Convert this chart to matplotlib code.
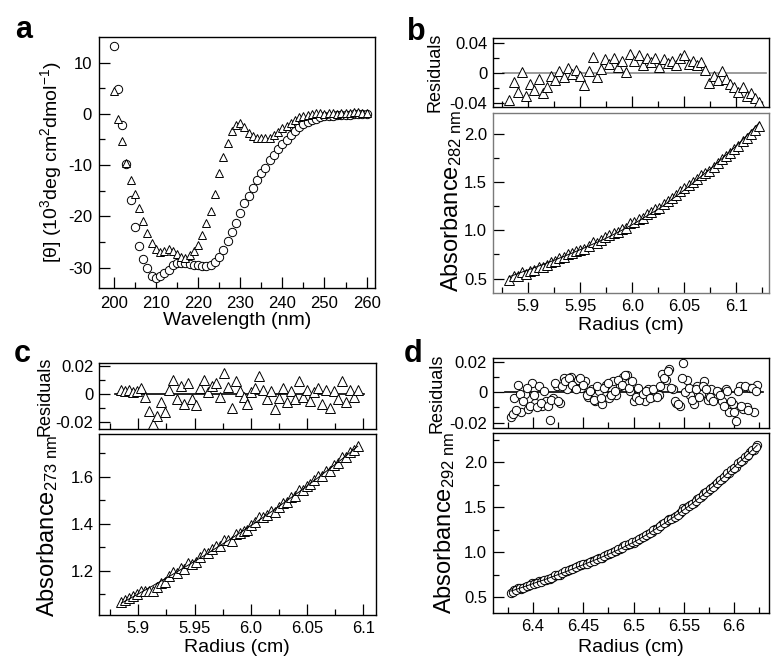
import numpy as np
import matplotlib
matplotlib.use('Agg')
import matplotlib.pyplot as plt
from matplotlib.ticker import FixedLocator

plt.rcParams['font.family'] = ['Liberation Sans', 'DejaVu Sans']
plt.rcParams['mathtext.fontset'] = 'custom'
plt.rcParams['mathtext.rm'] = 'Liberation Sans'
plt.rcParams['mathtext.it'] = 'Liberation Sans:italic'
plt.rcParams['mathtext.bf'] = 'Liberation Sans:bold'
plt.rcParams['axes.unicode_minus'] = False

# ---------------- Panel a: CD spectra ----------------
wavelength = [200, 201, 202, 203, 204, 205, 206, 207, 208, 209, 210, 211, 212, 213, 214,
              215, 216, 217, 218, 219, 220, 221, 222, 223, 224, 225, 226, 227, 228, 229,
              230, 231, 232, 233, 234, 235, 236, 237, 238, 239, 240, 241, 242, 243, 244,
              245, 246, 247, 248, 249, 250, 251, 252, 253, 254, 255, 256, 257, 258, 259, 260]
theta_circles = [13.2, 4.8, -2.2, -9.7, -16.9, -22.0, -25.8, -28.3, -30.1, -31.6, -32.0, -31.7,
                 -31.1, -30.5, -29.6, -29.2, -29.1, -29.2, -29.3, -29.5, -29.6, -29.8, -29.7,
                 -29.5, -29.0, -28.0, -26.5, -24.8, -23.1, -21.3, -19.3, -17.5, -16.1, -14.4,
                 -12.9, -11.6, -10.5, -9.0, -8.0, -6.9, -5.9, -5.1, -4.1, -3.3, -2.6, -2.0,
                 -1.6, -1.2, -1.0, -0.7, -0.5, -0.4, -0.4, -0.3, -0.3, -0.2, -0.2, -0.1,
                 -0.1, -0.1, -0.1]
theta_triangles = [4.5, -1.1, -5.4, -9.6, -12.9, -15.7, -18.3, -20.9, -23.2, -25.2, -26.3, -27.0,
                   -26.7, -26.3, -26.7, -27.3, -28.0, -28.2, -27.6, -26.8, -25.7, -23.7, -21.3,
                   -19.0, -15.6, -11.6, -8.4, -5.6, -3.3, -2.2, -1.7, -2.5, -3.8, -4.4, -4.8,
                   -4.8, -4.8, -4.8, -4.1, -3.5, -2.8, -2.3, -1.7, -1.2, -0.7, -0.4, -0.2, -0.1,
                   0.1, 0.1, 0.0, 0.1, 0.1, 0.0, 0.2, 0.2, 0.1, 0.3, 0.4, 0.2, 0.1]
a_xticks = [200, 210, 220, 230, 240, 250, 260]
a_xlabels = ['200', '210', '220', '230', '240', '250', '260']
a_yticks = [-30, -20, -10, 0, 10]
a_ylabels = ['-30', '-20', '-10', '0', '10']

# ---------------- Panel b ----------------
radius_b = [5.882, 5.886, 5.890, 5.894, 5.898, 5.902, 5.906, 5.910, 5.914, 5.918,
            5.922, 5.926, 5.930, 5.934, 5.938, 5.942, 5.946, 5.950, 5.954, 5.958,
            5.962, 5.966, 5.970, 5.974, 5.978, 5.982, 5.986, 5.990, 5.994, 5.998,
            6.002, 6.006, 6.010, 6.014, 6.018, 6.022, 6.026, 6.030, 6.034, 6.038,
            6.042, 6.046, 6.050, 6.054, 6.058, 6.062, 6.066, 6.070, 6.074, 6.078,
            6.082, 6.086, 6.090, 6.094, 6.098, 6.102, 6.106, 6.110, 6.114, 6.118,
            6.122]
fit_b = [0.520, 0.535, 0.551, 0.567, 0.582, 0.598, 0.614, 0.630, 0.646, 0.662,
         0.678, 0.694, 0.712, 0.729, 0.747, 0.764, 0.782, 0.800, 0.819, 0.838,
         0.857, 0.876, 0.895, 0.914, 0.936, 0.958, 0.980, 1.002, 1.025, 1.048,
         1.072, 1.098, 1.124, 1.150, 1.176, 1.202, 1.228, 1.259, 1.291, 1.323,
         1.355, 1.387, 1.420, 1.455, 1.490, 1.525, 1.560, 1.595, 1.630, 1.668,
         1.707, 1.745, 1.784, 1.822, 1.860, 1.900, 1.943, 1.987, 2.030, 2.075,
         2.120]
resid_b = [-0.036, -0.012, -0.025, 0.001, -0.030, -0.015, -0.022, -0.008, -0.027, -0.018,
           -0.004, -0.010, 0.003, -0.006, 0.006, -0.002, 0.004, -0.004, -0.016, 0.002,
           0.021, -0.006, 0.005, 0.018, 0.012, 0.020, 0.008, 0.016, 0.001, 0.025,
           0.016, 0.023, 0.010, 0.020, 0.014, 0.019, 0.008, 0.018, 0.013, 0.016,
           0.010, 0.019, 0.023, 0.012, 0.016, 0.011, 0.014, 0.004, -0.013, -0.004,
           -0.010, 0.002, -0.008, -0.015, -0.019, -0.025, -0.018, -0.030, -0.027, -0.033,
           -0.038]
b_xticks = [5.9, 5.95, 6.0, 6.05, 6.1]
b_xlabels = ['5.9', '5.95', '6.0', '6.05', '6.1']
b_yticks = [0.5, 1.0, 1.5, 2.0]
b_ylabels = ['0.5', '1.0', '1.5', '2.0']
b_rticks = [-0.04, 0, 0.04]
b_rlabels = ['-0.04', '0', '0.04']

# ---------------- Panel c ----------------
radius_c = [5.8850, 5.8885, 5.8920, 5.8955, 5.8990, 5.9025, 5.9060, 5.9095, 5.9130, 5.9165,
            5.9200, 5.9235, 5.9270, 5.9305, 5.9340, 5.9375, 5.9410, 5.9445, 5.9480, 5.9515,
            5.9550, 5.9585, 5.9620, 5.9655, 5.9690, 5.9725, 5.9760, 5.9795, 5.9830, 5.9865,
            5.9900, 5.9935, 5.9970, 6.0005, 6.0040, 6.0075, 6.0110, 6.0145, 6.0180, 6.0215,
            6.0250, 6.0285, 6.0320, 6.0355, 6.0390, 6.0425, 6.0460, 6.0495, 6.0530, 6.0565,
            6.0600, 6.0635, 6.0670, 6.0705, 6.0740, 6.0775, 6.0810, 6.0845, 6.0880, 6.0915,
            6.0950]
fit_c = [1.062, 1.071, 1.080, 1.089, 1.098, 1.108, 1.117, 1.127, 1.136, 1.146,
         1.155, 1.165, 1.174, 1.184, 1.194, 1.204, 1.214, 1.224, 1.234, 1.244,
         1.254, 1.264, 1.275, 1.285, 1.296, 1.306, 1.317, 1.327, 1.338, 1.349,
         1.360, 1.371, 1.382, 1.393, 1.404, 1.416, 1.427, 1.439, 1.450, 1.462,
         1.474, 1.486, 1.498, 1.510, 1.522, 1.534, 1.547, 1.559, 1.572, 1.584,
         1.597, 1.610, 1.623, 1.636, 1.649, 1.662, 1.675, 1.689, 1.702, 1.716,
         1.730]
resid_c = [0.003, 0.002, 0.003, 0.001, 0.002, 0.004, -0.002, -0.012, -0.022, -0.016,
           -0.006, -0.013, 0.003, 0.010, -0.004, 0.006, -0.007, 0.008, -0.004, -0.008,
           0.004, 0.010, 0.001, 0.006, 0.008, -0.002, 0.015, 0.005, -0.010, 0.009,
           0.002, -0.002, -0.007, 0.001, 0.004, 0.013, 0.003, -0.004, 0.002, -0.011,
           -0.003, 0.004, -0.006, 0.002, -0.004, 0.009, -0.002, 0.003, -0.005, 0.001,
           0.004, -0.007, 0.003, -0.010, 0.002, -0.004, 0.009, -0.006, 0.003, -0.002,
           0.003]
c_xticks = [5.9, 5.95, 6.0, 6.05, 6.1]
c_xlabels = ['5.9', '5.95', '6.0', '6.05', '6.1']
c_yticks = [1.2, 1.4, 1.6]
c_ylabels = ['1.2', '1.4', '1.6']
c_rticks = [-0.02, 0, 0.02]
c_rlabels = ['-0.02', '0', '0.02']

# ---------------- Panel d (two interleaved sets of scans) ----------------
radius_d = [6.3780, 6.3815, 6.3850, 6.3885, 6.3920, 6.3955, 6.3990, 6.4025, 6.4060, 6.4095,
            6.4130, 6.4165, 6.4200, 6.4235, 6.4270, 6.4305, 6.4340, 6.4375, 6.4410, 6.4445,
            6.4480, 6.4515, 6.4550, 6.4585, 6.4620, 6.4655, 6.4690, 6.4725, 6.4760, 6.4795,
            6.4830, 6.4865, 6.4900, 6.4935, 6.4970, 6.5005, 6.5040, 6.5075, 6.5110, 6.5145,
            6.5180, 6.5215, 6.5250, 6.5285, 6.5320, 6.5355, 6.5390, 6.5425, 6.5460, 6.5495,
            6.5530, 6.5565, 6.5600, 6.5635, 6.5670, 6.5705, 6.5740, 6.5775, 6.5810, 6.5845,
            6.5880, 6.5915, 6.5950, 6.5985, 6.6020, 6.6055, 6.6090, 6.6125, 6.6160, 6.6195,
            6.6230]
fit_d = [0.567, 0.579, 0.592, 0.605, 0.618, 0.632, 0.646, 0.660, 0.673, 0.686,
         0.700, 0.714, 0.728, 0.743, 0.758, 0.773, 0.788, 0.804, 0.820, 0.836,
         0.851, 0.866, 0.882, 0.898, 0.914, 0.930, 0.947, 0.964, 0.981, 0.999,
         1.017, 1.035, 1.054, 1.073, 1.092, 1.112, 1.134, 1.157, 1.180, 1.204,
         1.228, 1.252, 1.277, 1.303, 1.329, 1.355, 1.382, 1.410, 1.438, 1.467,
         1.496, 1.525, 1.555, 1.586, 1.617, 1.649, 1.682, 1.715, 1.750, 1.785,
         1.820, 1.857, 1.894, 1.932, 1.967, 2.002, 2.038, 2.075, 2.112, 2.150,
         2.189]
resid_d = [-0.016, -0.004, 0.005, -0.013, -0.001, -0.011, 0.006, -0.007, 0.004, -0.009,
           -0.006, -0.018, -0.004, 0.004, -0.007, 0.009, 0.002, 0.010, 0.006, 0.008,
           0.003, 0.007, -0.003, 0.002, -0.006, 0.001, -0.008, 0.005, -0.004, 0.007,
           -0.002, 0.004, 0.010, 0.011, 0.001, -0.006, 0.003, -0.004, -0.006, 0.002,
           -0.003, 0.001, -0.002, 0.012, 0.008, 0.015, 0.002, -0.007, -0.009, 0.019,
           0.008, -0.002, -0.008, 0.004, -0.001, 0.007, -0.005, 0.002, -0.004, 0.000,
           -0.006, 0.002, -0.013, -0.008, -0.019, 0.004, -0.011, -0.010, 0.003, -0.013,
           0.005]
radius_d2 = [6.3798, 6.3833, 6.3868, 6.3903, 6.3938, 6.3973, 6.4008, 6.4043, 6.4078, 6.4113,
             6.4148, 6.4183, 6.4218, 6.4253, 6.4288, 6.4323, 6.4358, 6.4393, 6.4428, 6.4463,
             6.4498, 6.4533, 6.4568, 6.4603, 6.4638, 6.4673, 6.4708, 6.4743, 6.4778, 6.4813,
             6.4848, 6.4883, 6.4918, 6.4953, 6.4988, 6.5023, 6.5058, 6.5093, 6.5128, 6.5163,
             6.5198, 6.5233, 6.5268, 6.5303, 6.5338, 6.5373, 6.5408, 6.5443, 6.5478, 6.5513,
             6.5548, 6.5583, 6.5618, 6.5653, 6.5688, 6.5723, 6.5758, 6.5793, 6.5828, 6.5863,
             6.5898, 6.5933, 6.5968, 6.6003, 6.6038, 6.6073, 6.6108, 6.6143, 6.6178, 6.6213]
fit_d2 = [0.573, 0.586, 0.599, 0.612, 0.625, 0.639, 0.653, 0.667, 0.680, 0.693,
          0.707, 0.721, 0.736, 0.751, 0.766, 0.781, 0.796, 0.812, 0.828, 0.844,
          0.859, 0.874, 0.890, 0.906, 0.922, 0.939, 0.956, 0.973, 0.990, 1.008,
          1.026, 1.045, 1.064, 1.083, 1.102, 1.123, 1.146, 1.169, 1.192, 1.216,
          1.240, 1.265, 1.290, 1.316, 1.342, 1.369, 1.396, 1.424, 1.453, 1.482,
          1.511, 1.540, 1.571, 1.602, 1.633, 1.666, 1.699, 1.733, 1.768, 1.803,
          1.839, 1.876, 1.913, 1.950, 1.985, 2.020, 2.057, 2.094, 2.131, 2.170]
resid_d2 = [-0.014, -0.012, -0.001, -0.006, 0.003, -0.009, -0.002, -0.010, -0.007, 0.001,
            -0.009, -0.005, 0.006, -0.006, 0.004, 0.007, 0.009, 0.005, 0.002, 0.009,
            0.005, -0.002, 0.001, -0.005, 0.004, -0.004, 0.003, 0.006, -0.002, 0.001,
            0.008, 0.005, 0.011, 0.003, 0.007, -0.003, -0.005, -0.001, 0.001, -0.004,
            0.002, -0.003, 0.004, 0.009, 0.014, 0.003, -0.006, -0.008, 0.009, 0.000,
            0.003, -0.005, 0.002, -0.003, 0.004, 0.002, -0.003, -0.006, 0.001, -0.002,
            -0.009, 0.001, -0.006, -0.013, 0.001, -0.009, 0.004, -0.012, 0.003, 0.001]
d_xticks = [6.4, 6.45, 6.5, 6.55, 6.6]
d_xlabels = ['6.4', '6.45', '6.5', '6.55', '6.6']
d_yticks = [0.5, 1.0, 1.5, 2.0]
d_ylabels = ['0.5', '1.0', '1.5', '2.0']
d_rticks = [-0.02, 0, 0.02]
d_rlabels = ['-0.02', '0', '0.02']

# ---------------- figure ----------------
W, H = 782, 671
fig = plt.figure(figsize=(W / 100, H / 100), dpi=100)


def box(x0, y0, x1, y1):
    return [x0 / W, 1 - y1 / H, (x1 - x0) / W, (y1 - y0) / H]


def style(ax, color='black', labelsize=12):
    ax.tick_params(which='both', direction='in', top=False, right=False,
                   labelsize=labelsize, width=0.9, colors='black')
    ax.tick_params(which='major', length=8, pad=4)
    ax.tick_params(which='minor', length=4.5)
    for s in ax.spines.values():
        s.set_linewidth(1.0)
        s.set_color(color)


mk_open = dict(mfc='white', mec='black', mew=0.7, ls='none')

# Panel a
ax = fig.add_axes(box(99, 37, 375, 288))
ax.plot(wavelength, theta_circles, 'o', ms=6, **mk_open)
ax.plot(wavelength, theta_triangles, '^', ms=6, **mk_open)
ax.set_xlim(196.5, 262)
ax.set_ylim(-34, 15)
ax.set_xticks(a_xticks, a_xlabels)
ax.set_yticks(a_yticks, a_ylabels)
ax.xaxis.set_minor_locator(FixedLocator([205, 215, 225, 235, 245, 255]))
ax.yaxis.set_minor_locator(FixedLocator([-25, -15, -5, 5]))
style(ax)
ax.tick_params(axis='x', pad=6)
ax.tick_params(axis='y', pad=5)
ax.set_xlabel('Wavelength (nm)', fontsize=14)
ax.xaxis.set_label_coords(0.5, -0.095)
ax.set_ylabel('[θ] (10$^{3}$deg cm$^{2}$dmol$^{-1}$)', fontsize=14)
ax.yaxis.set_label_coords(-0.128, 0.5)


def sedpanel(res_box, main_box, radius, fit, resid, marker, ms_main, ms_res,
             xlim, ylim, rlim, xt, xl, xminor, yt, yl, yminor, rt, rl, rminor,
             sub, zcolor, spine_main, lab_res_x, lab_abs_x, lab_abs_y, xlab_y):
    radius = np.asarray(radius)
    fit = np.asarray(fit)
    resid = np.asarray(resid)
    order = np.argsort(radius)
    axr = fig.add_axes(box(*res_box))
    axm = fig.add_axes(box(*main_box))
    # residuals
    axr.plot([radius.min() - 0.006, radius.max() + 0.006], [0, 0], color=zcolor, lw=1.2, zorder=1)
    axr.plot(radius, resid, marker, ms=ms_res, zorder=2, **mk_open)
    axr.set_xlim(*xlim)
    axr.set_ylim(*rlim)
    axr.set_xticks(xt, [''] * len(xt))
    axr.xaxis.set_minor_locator(FixedLocator(xminor))
    axr.set_yticks(rt, rl)
    axr.yaxis.set_minor_locator(FixedLocator(rminor))
    style(axr)
    axr.set_ylabel('Residuals', fontsize=13)
    axr.yaxis.set_label_coords(lab_res_x, 0.5)
    # main
    axm.plot(radius, fit + resid, marker, ms=ms_main, zorder=2, **mk_open)
    axm.plot(radius[order], fit[order], '-', color='black', lw=0.7, zorder=3)
    axm.set_xlim(*xlim)
    axm.set_ylim(*ylim)
    axm.set_xticks(xt, xl)
    axm.xaxis.set_minor_locator(FixedLocator(xminor))
    axm.set_yticks(yt, yl)
    axm.yaxis.set_minor_locator(FixedLocator(yminor))
    style(axm, color=spine_main)
    axm.tick_params(axis='x', pad=4)
    axm.tick_params(axis='y', pad=4)
    axm.set_xlabel('Radius (cm)', fontsize=14)
    axm.xaxis.set_label_coords(0.5, xlab_y)
    axm.set_ylabel('Absorbance$_{\\mathregular{%s\\ nm}}$' % sub, fontsize=17)
    axm.yaxis.set_label_coords(lab_abs_x, lab_abs_y)
    return axr, axm


sedpanel((492.7, 38, 768.7, 107), (492.7, 113, 768.7, 293), radius_b, fit_b, resid_b,
         '^', 7, 7,
         (5.866, 6.131), (0.35, 2.22), (-0.045, 0.046),
         b_xticks, b_xlabels, [5.875, 5.925, 5.975, 6.025, 6.075, 6.125],
         b_yticks, b_ylabels, [0.75, 1.25, 1.75],
         b_rticks, b_rlabels, [-0.02, 0.02],
         '282', '#8a8a8a', '#7a7a7a', -0.178, -0.105, 0.51, -0.135)

sedpanel((99, 363.3, 375.7, 429), (99, 434, 375.7, 615), radius_c, fit_c, resid_c,
         '^', 7, 7,
         (5.865, 6.111), (1.011, 1.782), (-0.0253, 0.022),
         c_xticks, c_xlabels, [5.875, 5.925, 5.975, 6.025, 6.075],
         c_yticks, c_ylabels, [1.1, 1.3, 1.5, 1.7],
         c_rticks, c_rlabels, [-0.01, 0.01],
         '273', 'black', 'black', -0.165, -0.14, 0.49, -0.135)

sedpanel((492.7, 358.3, 769.3, 427.7), (492.7, 433.3, 769.3, 613.3),
         radius_d + radius_d2, fit_d + fit_d2, resid_d + resid_d2,
         'o', 6, 6,
         (6.360, 6.635), (0.32, 2.32), (-0.0233, 0.0222),
         d_xticks, d_xlabels, [6.375, 6.425, 6.475, 6.525, 6.575, 6.625],
         d_yticks, d_ylabels, [0.75, 1.25, 1.75, 2.25],
         d_rticks, d_rlabels, [-0.01, 0.01],
         '292', 'black', 'black', -0.172, -0.13, 0.5, -0.145)

# panel letters
for (px, py, t) in [(15, 38, 'a'), (407, 40, 'b'), (14, 362, 'c'), (404, 362, 'd')]:
    fig.text(px / W, 1 - py / H, t, fontsize=22, fontweight='bold', va='baseline', ha='left')

fig.savefig('out.png', dpi=100)
